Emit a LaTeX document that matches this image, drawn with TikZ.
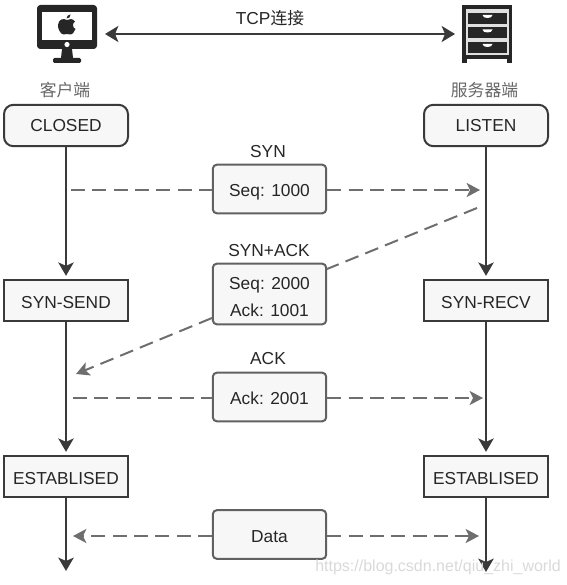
\documentclass[tikz,border=0pt]{standalone}
\usepackage{fontspec}
\setmainfont{Liberation Sans}
\newfontfamily\cjk{Noto Sans CJK SC}
\usetikzlibrary{arrows.meta}
\definecolor{ink}{HTML}{3A3A3A}
\definecolor{dash}{HTML}{6E6E6E}
\tikzset{
  x=0.75pt,y=-0.75pt,
  base/.style={draw=ink,line width=1.5pt,fill=black!3,text=black!85,font=\fontsize{13}{16}\selectfont,inner sep=0pt,align=center},
  oneline/.style={text height=11.5pt,text depth=0pt},
  state/.style={base,minimum width=93pt,minimum height=31pt,rounded corners=7pt},
  plain/.style={base,oneline,minimum width=93pt,minimum height=31pt},
  msg/.style={base,draw=black!62,minimum width=85pt,rounded corners=3pt},
  solidarrow/.style={draw=ink,line width=1.7pt,shorten >=2.25pt,-{Stealth[length=10pt,width=11.5pt,inset=2.5pt]}},
  dashline/.style={draw=dash,line width=1.5pt,dash pattern=on 10.5pt off 5.5pt},
  dasharrow/.style={dashline,-{Stealth[length=10pt,width=10.5pt,inset=2.5pt]}},
  lbl/.style={font=\fontsize{13}{16}\selectfont,text=black!85,inner sep=0pt},
  cjklbl/.style={font=\cjk\fontsize{12.6}{15}\selectfont,text=black!60,inner sep=0pt},
}
\begin{document}
\begin{tikzpicture}
\useasboundingbox (0,0) rectangle (567,585);
% state nodes
\node[state] (closed) at (66,125.5) {CLOSED};
\node[state] (listen) at (486,125.5) {LISTEN};
\node[plain] (send) at (66,300.5) {SYN-SEND};
\node[plain] (recv) at (486,300.5) {SYN-RECV};
\node[plain] (estl) at (66,476.5) {ESTABLISED};
\node[plain] (estr) at (486,476.5) {ESTABLISED};
% message nodes
\node[msg,oneline,minimum height=36.5pt] (seq) at (269.5,189) {Seq: 1000};
\node[msg,minimum height=45.5pt] (synack) at (269.5,294) {\rule{0pt}{13pt}Seq: 2000\\[4.25pt]Ack: 1001};
\node[msg,oneline,minimum height=36.5pt] (ack) at (269.5,397) {Ack: 2001};
\node[msg,oneline,minimum height=36.5pt] (data) at (269.5,534.5) {Data};
% labels
\node[lbl] (tcp) at (270,18) {TCP{\cjk\fontsize{12.6}{15}\selectfont 连接}};
\node[lbl] (lsyn) at (268,152) {SYN};
\node[lbl] (lsynack) at (269,251) {SYN+ACK};
\node[lbl] (lack) at (268,359) {ACK};
\node[cjklbl] (lc) at (65,90) {客户端};
\node[cjklbl] (ls) at (484.5,90) {服务器端};
% free ends
\coordinate (l0) at (66,574);
\coordinate (r0) at (486,575);
\coordinate (a1) at (71,190);
\coordinate (b1) at (480,190);
\coordinate (a2) at (477,208);
\coordinate (b2) at (76,374);
\coordinate (a3) at (73,398);
\coordinate (b3) at (483,398);
\coordinate (a4) at (73,536);
\coordinate (b4) at (479,536);
% vertical connectors
\draw[solidarrow] (closed) -- (send);
\draw[solidarrow] (listen) -- (recv);
\draw[solidarrow] (send) -- (estl);
\draw[solidarrow] (recv) -- (estr);
\draw[solidarrow] (estl) -- (l0);
\draw[solidarrow] (estr) -- (r0);
% dashed connectors
\draw[dashline] (a1) -- (seq.west |- a1);
\draw[dasharrow] (seq.east |- b1) -- (b1);
\draw[dashline] (a2) -- (327,269);
\draw[dasharrow] (212,318) -- (b2);
\draw[dashline] (a3) -- (ack.west |- a3);
\draw[dasharrow] (ack.east |- b3) -- (b3);
\draw[dasharrow] (data.west |- a4) -- (a4);
\draw[dasharrow] (data.east |- b4) -- (b4);
% TCP arrow
\coordinate (tl) at (105,34);
\coordinate (tr) at (455,34);
\draw[draw=ink,line width=1.7pt,{Stealth[length=10pt,width=12pt,inset=2.5pt]}-{Stealth[length=10pt,width=12pt,inset=2.5pt]}] (tl) -- (tr);
% computer icon
\fill[black!85,rounded corners=2.5pt] (37,5) rectangle (97,49);
\fill[white] (42,12) rectangle (92,40);
\fill[white] (67,44.5) circle (2.6);
\fill[black!85] (62,49) -- (72,49) -- (73,58) -- (61,58) -- cycle;
\fill[black!85,rounded corners=1pt] (53,58) rectangle (81,63);
% apple
\fill[black!85] (67,20)
  .. controls (63.5,18) and (58.5,19) .. (58,25)
  .. controls (57.5,29) and (61,34.5) .. (63.5,34.5)
  .. controls (65,34.5) and (65.5,34) .. (67,34)
  .. controls (68.5,34) and (69,34.5) .. (70.5,34.5)
  .. controls (72.5,34.5) and (74.5,31.5) .. (75.5,29)
  .. controls (72.5,28) and (72,23) .. (75,21.5)
  .. controls (73,18.5) and (69.5,18.5) .. (67,20) -- cycle;
\fill[black!85] (66.5,18.5) .. controls (66.5,16) and (68.5,14.5) .. (70.5,14.5)
  .. controls (70.5,17) and (69,18.5) .. (66.5,18.5) -- cycle;
% server icon
\fill[black!85] (462,5) rectangle (512,59);
\fill[black!85] (462,58) rectangle (467,63);
\fill[black!85] (507,58) rectangle (512,63);
\fill[black!12] (466,9.5) rectangle (509,55.5);
\foreach \y in {13,27.5,42}{
  \fill[black!85] (468,\y) rectangle (507,\y+11);
  \fill[white] (482.5,\y+2) -- (492.5,\y+2) .. controls (492.5,\y+4) and (490,\y+5) .. (487.5,\y+5) .. controls (485,\y+5) and (482.5,\y+4) .. (482.5,\y+2) -- cycle;
}
% watermark
\node[font=\fontsize{12}{14}\selectfont,text=black!15,inner sep=0pt,anchor=west] (wm) at (315,567) {https://blog.csdn.net/qiu\_zhi\_world};
\end{tikzpicture}
\end{document}
